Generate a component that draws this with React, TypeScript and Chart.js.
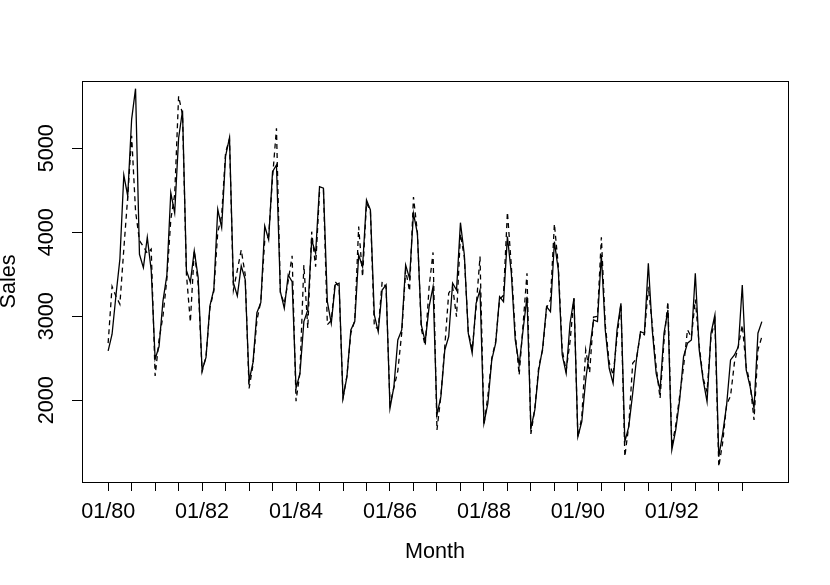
import React, { useEffect, useRef } from 'react';
import { Chart, registerables } from 'chart.js';

Chart.register(...registerables);

// Monthly sales, Jan 1980 - Dec 1993 (solid line)
const solidSales = [
  2587, 2786, 3250, 3680, 4680, 4432, 5345, 5710, 3738, 3579, 3940, 3550,
  2490, 2640, 3180, 3490, 4470, 4230, 5120, 5450, 3545, 3405, 3780, 3460,
  2355, 2510, 3123, 3321, 4274, 4055, 4908, 5126, 3400, 3242, 3599, 3440,
  2230, 2448, 3043, 3162, 4075, 3912, 4722, 4801, 3293, 3095, 3492, 3412,
  2143, 2321, 2936, 3075, 3908, 3750, 4543, 4524, 3174, 2917, 3373, 3393,
  2024, 2281, 2837, 2936, 3730, 3590, 4385, 4266, 3015, 2817, 3313, 3373,
  1905, 2162, 2718, 2837, 3611, 3452, 4226, 3988, 2896, 2698, 3115, 3352,
  1825, 2043, 2599, 2757, 3393, 3313, 4114, 3730, 2798, 2560, 3155, 3313,
  1726, 1964, 2480, 2679, 3233, 3174, 3948, 3512, 2718, 2420, 2837, 3233,
  1667, 1885, 2361, 2619, 3115, 3055, 3888, 3551, 2539, 2321, 2917, 3214,
  1567, 1745, 2242, 2599, 2956, 2936, 3730, 2837, 2381, 2202, 2837, 3155,
  1507, 1686, 2083, 2500, 2817, 2798, 3631, 2837, 2321, 2123, 2798, 3075,
  1408, 1646, 2004, 2519, 2679, 2718, 3512, 2599, 2242, 1983, 2798, 3015,
  1329, 1607, 1944, 2480, 2539, 2638, 3373, 2361, 2162, 1905, 2798, 2936,
];

// Second series (dashed line)
const dashedSales = [
  2680, 3355, 3240, 3143, 3800, 4420, 5150, 4250, 3900, 3830, 3750, 3800,
  2290, 2720, 3000, 3440, 4150, 4450, 5620, 5400, 3500, 2930, 3780, 3380,
  2340, 2520, 3100, 3300, 4000, 4200, 4950, 5110, 3313, 3550, 3790, 3500,
  2140, 2420, 2950, 3180, 3900, 3950, 4650, 5238, 3280, 3150, 3420, 3720,
  1990, 2330, 3611, 2857, 4007, 3590, 4483, 4500, 2900, 2950, 3412, 3350,
  2030, 2290, 2800, 2950, 4067, 3471, 4350, 4250, 2876, 2850, 3412, 3350,
  1950, 2150, 2350, 2800, 3550, 3300, 4420, 4000, 2850, 2650, 3350, 3760,
  1646, 2050, 2640, 3274, 3350, 2995, 3980, 3700, 2820, 2600, 3100, 3710,
  1700, 2050, 2500, 2700, 3200, 3250, 4240, 3600, 2800, 2301, 2900, 3512,
  1600, 1900, 2400, 2600, 3100, 3200, 4100, 3600, 2600, 2350, 2700, 3214,
  1560, 1800, 2600, 2330, 2990, 3000, 3940, 2900, 2450, 2300, 2750, 3150,
  1330, 1700, 2440, 2500, 2800, 2780, 3352, 2900, 2400, 2024, 2700, 3174,
  1450, 1700, 2050, 2400, 2840, 2750, 3200, 2650, 2262, 2100, 2750, 2950,
  1210, 1500, 1950, 2050, 2450, 2650, 2896, 2400, 2200, 1765, 2600, 2757,
];

// x tick marks every 6 months (month index), labels every 24 months
const xTickMonths = [
  0, 6, 12, 18, 24, 30, 36, 42, 48, 54, 60, 66, 72, 78,
  84, 90, 96, 102, 108, 114, 120, 126, 132, 138, 144, 150, 156, 162,
];
const xTickLabels = ['01/80', '01/82', '01/84', '01/86', '01/88', '01/90', '01/92'];
const yTickValues = [2000, 3000, 4000, 5000];

const FONT = 'Liberation Sans, Arial, Helvetica, sans-serif';

export default function App() {
  const ref = useRef<HTMLCanvasElement>(null);

  useEffect(() => {
    if (!ref.current) return;
    const font = { family: FONT, size: 21.6 };
    const titleFont = { family: FONT, size: 21.6, lineHeight: 1 };

    const framePlugin = {
      id: 'frame',
      afterDraw(chart: any) {
        const { ctx, chartArea: a } = chart;
        ctx.save();
        ctx.strokeStyle = '#000';
        ctx.lineWidth = 1;
        ctx.strokeRect(Math.round(a.left) + 0.5, Math.round(a.top) + 0.5,
          Math.round(a.right - a.left), Math.round(a.bottom - a.top));
        ctx.restore();
      },
    };

    const chart = new Chart(ref.current, {
      type: 'line',
      data: {
        datasets: [
          {
            data: solidSales.map((v, i) => ({ x: i, y: v })),
            borderColor: '#000',
            borderWidth: 1.3,
            pointRadius: 0,
            fill: false,
            tension: 0,
          },
          {
            data: dashedSales.map((v, i) => ({ x: i, y: v })),
            borderColor: '#000',
            borderWidth: 1.3,
            borderDash: [5, 4],
            pointRadius: 0,
            fill: false,
            tension: 0,
          },
        ],
      },
      options: {
        animation: false,
        responsive: false,
        maintainAspectRatio: false,
        layout: { padding: { top: 81, right: 42, left: 0, bottom: 0 } },
        plugins: { legend: { display: false }, tooltip: { enabled: false } },
        scales: {
          x: {
            type: 'linear',
            min: -6.68,
            max: 173.68,
            afterBuildTicks: (axis: any) => {
              axis.ticks = xTickMonths.map((v) => ({ value: v }));
            },
            afterFit: (axis: any) => {
              axis.height = 103;
            },
            ticks: {
              autoSkip: false,
              maxRotation: 0,
              minRotation: 0,
              color: '#000',
              font,
              padding: 8,
              callback: (value: any) => {
                const v = Number(value);
                return v % 24 === 0 ? xTickLabels[v / 24] : '';
              },
            },
            grid: { drawOnChartArea: false, drawTicks: true, tickLength: 9, color: '#000', lineWidth: 1 },
            border: { display: false },
            title: { display: true, text: 'Month', color: '#000', font: titleFont, padding: { top: 0, bottom: 22 } },
          },
          y: {
            type: 'linear',
            min: 1027,
            max: 5801,
            afterBuildTicks: (axis: any) => {
              axis.ticks = yTickValues.map((v) => ({ value: v }));
            },
            afterFit: (axis: any) => {
              axis.width = 82;
            },
            ticks: {
              color: '#000',
              font,
              minRotation: 90,
              maxRotation: 90,
              crossAlign: 'center',
              padding: 1,
              callback: (value: any) => String(value),
            },
            grid: { drawOnChartArea: false, drawTicks: true, tickLength: 10, color: '#000', lineWidth: 1 },
            border: { display: false },
            title: { display: true, text: 'Sales', color: '#000', font: titleFont, padding: { top: -1.6, bottom: 0 } },
          },
        },
      },
      plugins: [framePlugin],
    } as any);

    return () => chart.destroy();
  }, []);

  return (
    <div style={{ position: 'fixed', left: 0, top: 0, width: 830, height: 585, background: '#fff' }}>
      <canvas ref={ref} width={830} height={585} style={{ width: 830, height: 585, display: 'block' }} />
    </div>
  );
}
